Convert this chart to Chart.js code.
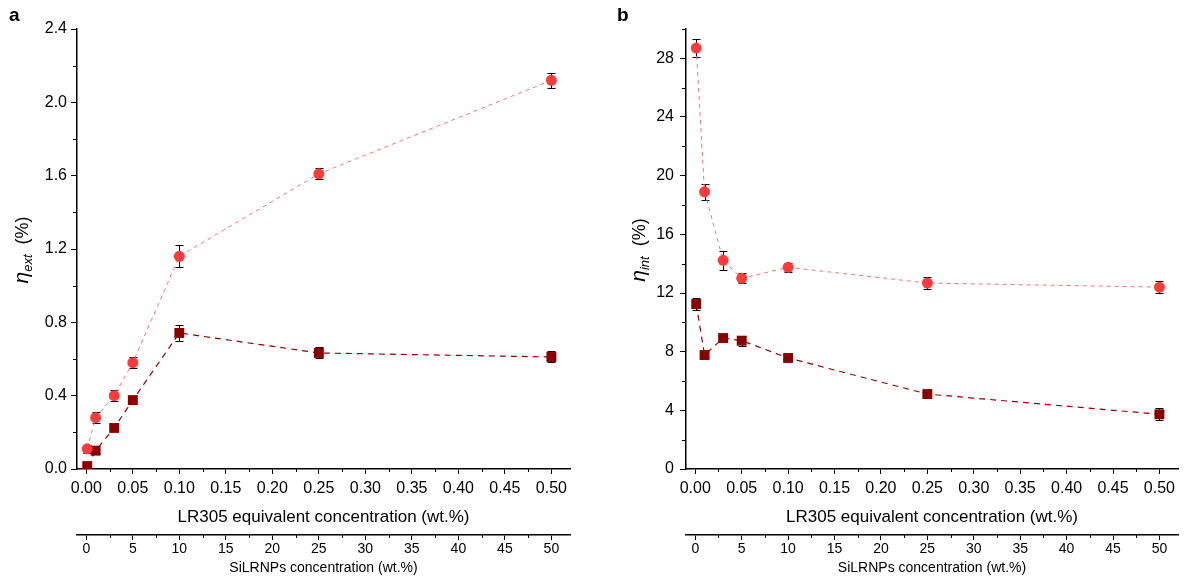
<!DOCTYPE html>
<html><head><meta charset="utf-8">
<script src="https://cdn.jsdelivr.net/npm/chart.js@4/dist/chart.umd.min.js"></script>
<style>
html,body{margin:0;padding:0;background:#fff;overflow:hidden}
#wrap{position:relative;width:1189px;height:580px;background:#fff}
canvas{position:absolute;top:0}
</style></head><body>
<div id="wrap">
<canvas id="ca" width="595" height="580" style="left:0"></canvas>
<canvas id="cb" width="594" height="580" style="left:595px"></canvas>
</div>
<script>
// ---- data ----
const lr305 = [0.001, 0.01, 0.03, 0.05, 0.10, 0.25, 0.50];
const extCircle    = [0.11, 0.28, 0.40, 0.58, 1.16, 1.61, 2.12];
const extCircleErr = [0.02, 0.03, 0.03, 0.03, 0.06, 0.03, 0.04];
const extSquare    = [0.016, 0.10, 0.224, 0.376, 0.742, 0.633, 0.611];
const extSquareErr = [0.01, 0.01, 0.01, 0.01, 0.045, 0.03, 0.03];
const intCircle    = [28.7, 18.9, 14.23, 13.0, 13.75, 12.68, 12.4];
const intCircleErr = [0.6, 0.55, 0.65, 0.35, 0.3, 0.4, 0.4];
const intSquare    = [11.25, 7.77, 8.93, 8.75, 7.57, 5.11, 3.73];
const intSquareErr = [0.4, 0.15, 0.3, 0.35, 0.2, 0.3, 0.4];
const xTitle  = 'LR305 equivalent concentration (wt.%)';
const x2Title = 'SiLRNPs concentration (wt.%)';

Chart.defaults.font.family = '"Liberation Sans", Arial, sans-serif';
Chart.defaults.color = '#000';

const toPts = (xs, ys) => xs.map((x, i) => ({x: x, y: ys[i]}));

const errorBars = {
  id: 'errorBars',
  beforeDatasetsDraw(chart) {
    const ctx = chart.ctx;
    chart.data.datasets.forEach((ds, di) => {
      const meta = chart.getDatasetMeta(di);
      const ys = chart.scales[meta.yAxisID];
      ctx.save(); ctx.strokeStyle = '#000'; ctx.lineWidth = 1;
      ctx.beginPath();
      meta.data.forEach((pt, i) => {
        const v = ds.data[i].y, e = ds.errors[i];
        const y1 = Math.round(ys.getPixelForValue(v + e)) + 0.5;
        const y2 = Math.round(ys.getPixelForValue(v - e)) + 0.5;
        const x = Math.round(pt.x) + 0.5;
        ctx.moveTo(x, y1); ctx.lineTo(x, y2);
        ctx.moveTo(x - 4, y1); ctx.lineTo(x + 4, y1);
        ctx.moveTo(x - 4, y2); ctx.lineTo(x + 4, y2);
      });
      ctx.stroke(); ctx.restore();
    });
  }
};

const minorTicks = {
  id: 'minorTicks',
  afterDraw(chart) {
    const ctx = chart.ctx;
    Object.values(chart.scales).forEach(s => {
      const len = s.options.minorLength; if (!len) return;
      const vals = s.ticks.map(t => t.value);
      const step = vals[1] - vals[0];
      const minors = [];
      vals.forEach(v => { const m = v + step / 2; if (m <= s.max + 1e-9) minors.push(m); });
      if (vals[0] - step / 2 >= s.min) minors.push(vals[0] - step / 2);
      ctx.save(); ctx.strokeStyle = '#000'; ctx.lineWidth = 1;
      ctx.beginPath();
      minors.forEach(m => {
        const p = Math.round(s.getPixelForValue(m)) + 0.5;
        if (s.isHorizontal()) { ctx.moveTo(p, s.top); ctx.lineTo(p, s.top + len); }
        else { ctx.moveTo(s.right, p); ctx.lineTo(s.right - len, p); }
      });
      ctx.stroke(); ctx.restore();
    });
  }
};

const annot = {
  id: 'annot',
  afterDraw(chart, args, opts) {
    const ctx = chart.ctx;
    ctx.save();
    ctx.fillStyle = '#000';
    ctx.textBaseline = 'alphabetic';
    ctx.font = 'bold 19px "Liberation Sans", Arial, sans-serif';
    ctx.fillText(opts.letter, opts.lx, 21);
    // rotated y-axis title
    const fMain = 'italic 21px "Liberation Sans", Arial, sans-serif';
    const fSub = 'italic 13px "Liberation Sans", Arial, sans-serif';
    const fRest = '18px "Liberation Sans", Arial, sans-serif';
    ctx.font = fMain; const w1 = ctx.measureText('η').width;
    ctx.font = fSub; const w2 = ctx.measureText(opts.sub).width;
    ctx.font = fRest; const w3 = ctx.measureText('  (%)').width;
    const total = w1 + w2 + w3;
    ctx.translate(opts.tx, opts.ty);
    ctx.rotate(-Math.PI / 2);
    let x = -total / 2;
    ctx.font = fMain; ctx.fillText('η', x, 0); x += w1;
    ctx.font = fSub; ctx.fillText(opts.sub, x, 4); x += w2;
    ctx.font = fRest; ctx.fillText('  (%)', x, 0);
    ctx.restore();
  }
};

function axisGrid(len) {
  return {display: true, drawOnChartArea: false, drawTicks: true, tickLength: len, color: '#000', lineWidth: 1};
}
const border = {display: true, color: '#000', width: 1.5};

function makePanel(id, p) {
  return new Chart(document.getElementById(id), {
    type: 'line',
    data: {
      datasets: [
        {
          data: toPts(lr305, p.circle), errors: p.circleErr,
          borderColor: '#FF7070', borderWidth: 1, borderDash: [4, 4],
          pointStyle: 'circle', pointRadius: 5.5, pointHoverRadius: 5.5,
          pointBackgroundColor: '#FF3B3B', pointBorderColor: '#FF3B3B', pointBorderWidth: 0,
          tension: 0, xAxisID: 'x', yAxisID: 'y'
        },
        {
          data: toPts(lr305, p.square), errors: p.squareErr,
          borderColor: '#990000', borderWidth: 1.2, borderDash: [6, 5],
          pointStyle: 'rect', pointRadius: 7, pointHoverRadius: 7,
          pointBackgroundColor: '#880000', pointBorderColor: '#880000', pointBorderWidth: 0,
          tension: 0, xAxisID: 'x', yAxisID: 'y'
        }
      ]
    },
    options: {
      responsive: false, animation: false, devicePixelRatio: 1,
      layout: {padding: {top: 29, right: p.right, left: 0, bottom: 0}},
      plugins: {
        legend: {display: false}, tooltip: {enabled: false},
        annot: {letter: p.letter, lx: p.lx, sub: p.sub, tx: p.tx, ty: 250}
      },
      scales: {
        y: {
          type: 'linear', position: 'left', min: 0, max: p.ymax,
          ticks: {stepSize: p.ystep, includeBounds: false, font: {size: 16}, padding: p.ypad, color: '#000',
                  callback: v => p.ydec ? v.toFixed(p.ydec) : String(Math.round(v))},
          grid: axisGrid(6), border: border, minorLength: 4,
          afterFit: s => { s.width = p.yw; }
        },
        x: {
          type: 'linear', position: 'bottom', weight: 0, min: -0.01, max: 0.52,
          ticks: {stepSize: 0.05, includeBounds: false, font: {size: 16}, padding: 5, color: '#000',
                  callback: v => v.toFixed(2)},
          grid: axisGrid(5), border: border, minorLength: 3,
          title: {display: true, text: xTitle, font: {size: 17}, padding: {top: 0, bottom: 7}, color: '#000'},
          afterFit: s => { s.height = 66; }
        },
        x2: {
          type: 'linear', position: 'bottom', weight: 1, min: -1, max: 52,
          ticks: {stepSize: 5, includeBounds: false, font: {size: 14}, padding: 1, color: '#000',
                  callback: v => String(Math.round(v))},
          grid: axisGrid(5), border: border, minorLength: 3,
          title: {display: true, text: x2Title, font: {size: 14}, padding: {top: 0, bottom: 3}, color: '#000'},
          afterFit: s => { s.height = 45; }
        }
      }
    },
    plugins: [errorBars, minorTicks, annot]
  });
}

makePanel('ca', {circle: extCircle, circleErr: extCircleErr, square: extSquare, squareErr: extSquareErr,
  ymax: 2.4, ystep: 0.4, ydec: 1, ypad: 4, yw: 77, right: 25, letter: 'a', lx: 9, sub: 'ext', tx: 28});
makePanel('cb', {circle: intCircle, circleErr: intCircleErr, square: intSquare, squareErr: intSquareErr,
  ymax: 30, ystep: 4, ydec: 0, ypad: 6, yw: 91, right: 11, letter: 'b', lx: 22, sub: 'int', tx: 50});
</script>
</body></html>
